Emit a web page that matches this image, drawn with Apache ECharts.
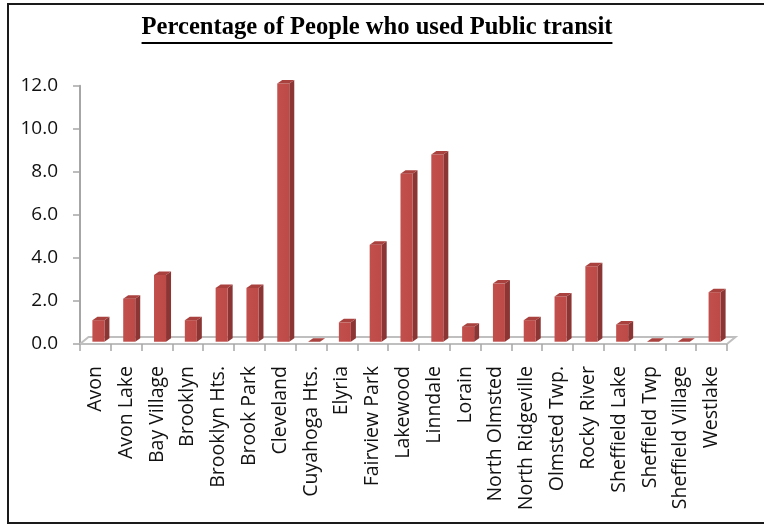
<!DOCTYPE html>
<html>
<head>
<meta charset="utf-8">
<script src="https://cdn.jsdelivr.net/npm/echarts@6/dist/echarts.min.js"></script>
<style>
  html, body { margin: 0; padding: 0; background: #fff; }
  #chart { width: 764px; height: 525px; }
</style>
</head>
<body>
<div id="chart"></div>
<script>
// Communities and the share of residents using public transit (%)
const categories = [
  'Avon', 'Avon Lake', 'Bay Village', 'Brooklyn', 'Brooklyn Hts.', 'Brook Park',
  'Cleveland', 'Cuyahoga Hts.', 'Elyria', 'Fairview Park', 'Lakewood', 'Linndale',
  'Lorain', 'North Olmsted', 'North Ridgeville', 'Olmsted Twp.', 'Rocky River',
  'Sheffield Lake', 'Sheffield Twp', 'Sheffield Village', 'Westlake'
];
const transitShare = [
  1.0, 2.0, 3.1, 1.0, 2.5, 2.5,
  12.0, 0.0, 0.9, 4.5, 7.8, 8.7,
  0.7, 2.7, 1.0, 2.1, 3.5,
  0.8, 0.0, 0.0, 2.3
];
const yTicks = [0, 2, 4, 6, 8, 10, 12];

const titleText = 'Percentage of People who used Public transit';
const titleFont = 'bold 24.6px "Liberation Serif"';

const chart = echarts.init(document.getElementById('chart'), null, { renderer: 'canvas' });

// width of the title, used for its underline
const measureCtx = document.createElement('canvas').getContext('2d');
measureCtx.font = titleFont;
const titleWidth = measureCtx.measureText(titleText).width;
const titleCx = 377;

// depth offsets for the pseudo-3D look
const FLOOR_DX = 8.5, FLOOR_DY = 7;
const BAR_DX = 5, BAR_DY = 3.5;
const BAR_SHIFT_X = 3, BAR_SHIFT_Y = -2.3;

function renderFloor(params, api) {
  const band = api.size([1, 0])[0];
  const first = api.coord([0, 0]);
  const last = api.coord([categories.length - 1, 0]);
  const left = first[0] - band / 2;
  const right = last[0] + band / 2;
  const y = first[1];
  return {
    type: 'polyline',
    shape: {
      points: [
        [left, y], [left + FLOOR_DX, y - FLOOR_DY],
        [right + FLOOR_DX, y - FLOOR_DY], [right, y]
      ]
    },
    style: { stroke: '#bfbfbf', lineWidth: 2, fill: null },
    z2: 0
  };
}

function renderBar(params, api) {
  const idx = api.value(0);
  const val = api.value(1);
  const top = api.coord([idx, val]);
  const base = api.coord([idx, 0]);
  const band = api.size([1, 0])[0];
  const fw = band * 0.39;
  const xl = top[0] - fw / 2 + BAR_SHIFT_X;
  const xr = xl + fw;
  const yt = top[1] + BAR_SHIFT_Y;
  const yb = base[1] + BAR_SHIFT_Y;
  const children = [];
  if (yb - yt > 0.5) {
    children.push({
      type: 'polygon',
      shape: { points: [[xr, yt], [xr + BAR_DX, yt - BAR_DY], [xr + BAR_DX, yb - BAR_DY], [xr, yb]] },
      style: { fill: '#8b3634' }
    });
    children.push({
      type: 'rect',
      shape: { x: xl, y: yt, width: fw, height: yb - yt },
      style: {
        fill: new echarts.graphic.LinearGradient(0, 0, 1, 0, [
          { offset: 0, color: '#c24f4c' },
          { offset: 1, color: '#bd4a47' }
        ])
      }
    });
  }
  children.push({
    type: 'polygon',
    shape: { points: [[xl, yt], [xl + BAR_DX, yt - BAR_DY], [xr + BAR_DX, yt - BAR_DY], [xr, yt]] },
    style: { fill: '#a9413e' }
  });
  return { type: 'group', children: children };
}

const option = {
  backgroundColor: '#ffffff',
  animation: false,
  grid: { left: 80, right: 37, top: 85.7, bottom: 181, containLabel: false },
  xAxis: {
    type: 'category',
    data: categories,
    boundaryGap: true,
    axisLine: { show: true, lineStyle: { color: '#bfbfbf', width: 2 } },
    axisTick: { show: true, length: 7, lineStyle: { color: '#a6a6a6', width: 1.5 } },
    axisLabel: {
      rotate: 90,
      interval: 0,
      margin: 22,
      color: '#111111',
      fontFamily: '"Open Sans"',
      fontSize: 19.5
    },
    splitLine: { show: false }
  },
  yAxis: {
    type: 'value',
    min: yTicks[0],
    max: yTicks[yTicks.length - 1],
    interval: 2,
    axisLine: { show: true, lineStyle: { color: '#a6a6a6', width: 2 } },
    axisTick: { show: true, length: 7, lineStyle: { color: '#a6a6a6', width: 1.5 } },
    axisLabel: {
      margin: 22,
      color: '#111111',
      fontFamily: '"Open Sans"',
      fontSize: 19,
      formatter: v => v.toFixed(1)
    },
    splitLine: { show: false }
  },
  series: [
    {
      type: 'custom',
      name: 'floor',
      renderItem: renderFloor,
      data: [[0, 0]],
      z: 1,
      silent: true
    },
    {
      type: 'custom',
      name: 'Public transit',
      renderItem: renderBar,
      encode: { x: 0, y: 1 },
      data: transitShare.map((v, i) => [i, v]),
      z: 3
    }
  ],
  graphic: [
    {
      type: 'rect',
      shape: { x: 8, y: 4, width: 800, height: 519 },
      style: { fill: null, stroke: '#1a1a1a', lineWidth: 2 },
      z: 100,
      silent: true
    },
    {
      type: 'text',
      x: titleCx,
      y: 40,
      style: {
        text: titleText,
        font: titleFont,
        fill: '#000000',
        textAlign: 'center',
        textVerticalAlign: 'bottom'
      },
      z: 100
    },
    {
      type: 'line',
      shape: { x1: titleCx - titleWidth / 2, y1: 43, x2: titleCx + titleWidth / 2, y2: 43 },
      style: { stroke: '#000000', lineWidth: 2 },
      z: 100
    }
  ]
};

chart.setOption(option);
</script>
</body>
</html>
